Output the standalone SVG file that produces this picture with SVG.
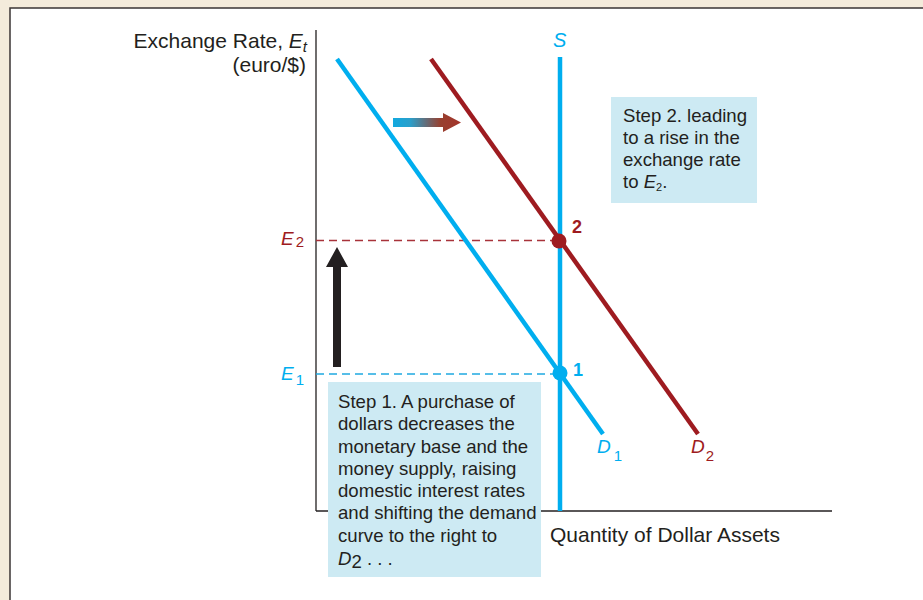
<svg xmlns="http://www.w3.org/2000/svg" width="923" height="600" viewBox="0 0 923 600">
<defs>
<style>
text{font-family:"Liberation Sans",Arial,sans-serif;}
.lbl{font-size:21px;fill:#231F20;}
.box{fill:#CDEAF3;}
.boxt{font-size:18.6px;fill:#231F20;}
.blue{fill:#00AEEF;}
.red{fill:#9E1B20;}
.it{font-style:italic;}
</style>
<linearGradient id="shiftGrad" gradientUnits="userSpaceOnUse" x1="393" y1="0" x2="461" y2="0">
<stop offset="0" stop-color="#12A9DF"/>
<stop offset="0.25" stop-color="#2A9FCB"/>
<stop offset="0.7" stop-color="#98402F"/>
<stop offset="1" stop-color="#A3332A"/>
</linearGradient>
</defs>
<rect x="0" y="0" width="923" height="600" fill="#F4EBDB"/>
<rect x="10" y="8" width="930" height="610" fill="#FFFFFF" stroke="#3A3535" stroke-width="1.5"/>

<g id="axes" fill="none" stroke="#231F20" stroke-width="1.3">
<line x1="316" y1="30" x2="316" y2="511"/>
<line x1="316" y1="511" x2="832" y2="511"/>
</g>

<g id="axis-labels">
<text class="lbl" x="307" y="48" text-anchor="end">Exchange Rate, <tspan class="it">E</tspan><tspan class="it" font-size="15" dy="4">t</tspan></text>
<text class="lbl" x="306" y="72" text-anchor="end">(euro/$)</text>
<text class="lbl" x="550" y="542">Quantity of Dollar Assets</text>
</g>

<g id="connectors">
<line x1="316" y1="240.5" x2="559" y2="240.5" stroke="#A8333A" stroke-width="1.3" stroke-dasharray="8,5"/>
<line x1="316" y1="374" x2="559" y2="374" stroke="#1FA9E1" stroke-width="1.3" stroke-dasharray="8,5"/>
<line id="D1" x1="337" y1="59" x2="603" y2="434" stroke="#00AEEF" stroke-width="4.5"/>
<line id="S" x1="560" y1="57" x2="560" y2="511" stroke="#00AEEF" stroke-width="4.5"/>
<line id="D2" x1="431" y1="59" x2="698" y2="434" stroke="#9E1B20" stroke-width="4.5"/>
<path id="shift-arrow" d="M393,118 H443 V113 L461,122.5 L443,132 V127 H393 Z" fill="url(#shiftGrad)"/>
<path id="rise-arrow" d="M333,367 V267 H326 L337,247 L348,267 H341 V367 Z" fill="#231F20"/>
</g>

<g id="curve-labels">
<text class="blue it" x="553" y="47" font-size="20">S</text>
<text class="blue" x="597" y="453" font-size="19"><tspan class="it">D</tspan><tspan font-size="15" dx="3" dy="8">1</tspan></text>
<text class="red" x="691" y="453" font-size="19"><tspan class="it">D</tspan><tspan font-size="15" dx="1" dy="8">2</tspan></text>
<text class="red" x="281" y="245" font-size="19"><tspan class="it">E</tspan><tspan font-size="15" dx="2" dy="2">2</tspan></text>
<text class="blue" x="281" y="380" font-size="19"><tspan class="it">E</tspan><tspan font-size="15" dx="2" dy="5">1</tspan></text>
</g>

<g id="point2">
<circle cx="559" cy="241" r="7.5" fill="#9E1B20"/>
<text class="red" x="572" y="233" font-size="18" font-weight="bold">2</text>
</g>

<g id="point1">
<circle cx="560" cy="373" r="7.5" fill="#00AEEF"/>
<text class="blue" x="573" y="376" font-size="18" font-weight="bold">1</text>
</g>

<g id="step2">
<rect class="box" x="611" y="97" width="146" height="106"/>
<text class="boxt" x="623" y="122">Step 2. leading</text>
<text class="boxt" x="623" y="144">to a rise in the</text>
<text class="boxt" x="623" y="166">exchange rate</text>
<text class="boxt" x="623" y="188">to <tspan class="it">E</tspan><tspan font-size="11" dy="3">2</tspan><tspan dy="-3">.</tspan></text>
</g>

<g id="step1">
<rect class="box" x="328" y="382" width="213" height="195"/>
<text class="boxt" x="338" y="408">Step 1. A purchase of</text>
<text class="boxt" x="338" y="430">dollars decreases the</text>
<text class="boxt" x="338" y="453">monetary base and the</text>
<text class="boxt" x="338" y="475">money supply, raising</text>
<text class="boxt" x="338" y="497">domestic interest rates</text>
<text class="boxt" x="338" y="519">and shifting the demand</text>
<text class="boxt" x="338" y="542">curve to the right to</text>
<text class="boxt" x="338" y="565"><tspan class="it">D</tspan><tspan dy="3">2</tspan><tspan dy="-3"> . . .</tspan></text>
</g>
</svg>
